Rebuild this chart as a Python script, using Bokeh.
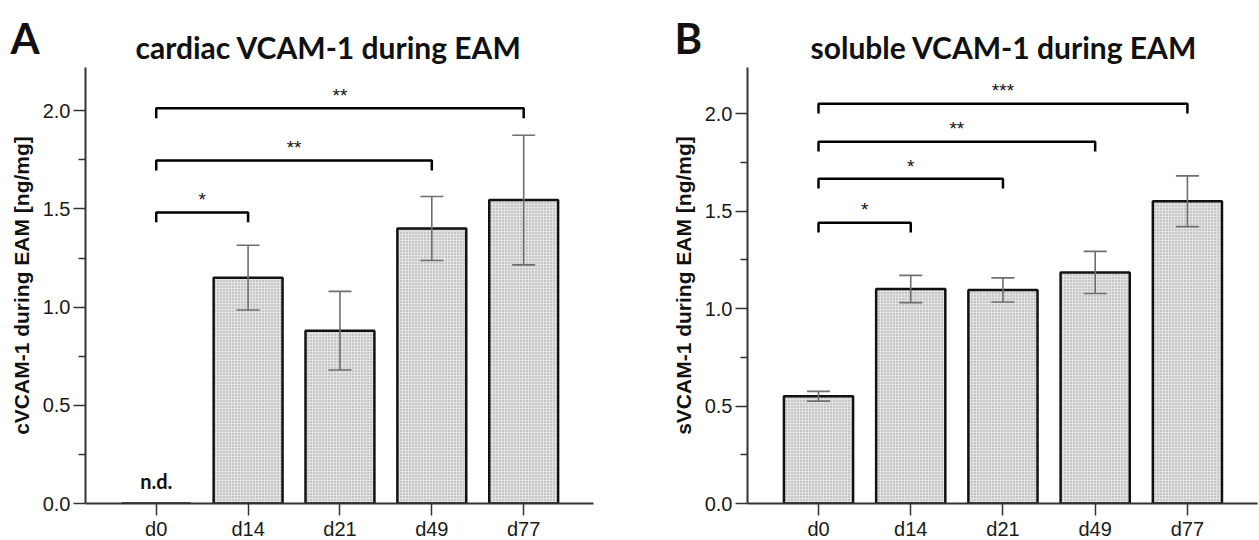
from bokeh.plotting import figure
from bokeh.layouts import row
from bokeh.models import FixedTicker, Label, ColumnDataSource, Range1d
from bokeh.embed import file_html
from bokeh.resources import INLINE
from bokeh.core.properties import value

days = ["d0", "d14", "d21", "d49", "d77"]

cardiac_mean = [0.0, 1.15, 0.88, 1.40, 1.545]
cardiac_sem = [0.0, 0.165, 0.20, 0.163, 0.33]
cardiac_br_to = [1, 3, 4]
cardiac_br_y = [1.482, 1.746, 2.012]
cardiac_br_stars = ["*", "**", "**"]

soluble_mean = [0.55, 1.10, 1.095, 1.185, 1.55]
soluble_sem = [0.025, 0.07, 0.062, 0.108, 0.13]
soluble_br_to = [1, 2, 3, 4]
soluble_br_y = [1.44, 1.665, 1.855, 2.05]
soluble_br_stars = ["*", "*", "**", "***"]

y_ticks = [0.0, 0.5, 1.0, 1.5, 2.0]
y_minor = [0.25, 0.75, 1.25, 1.75]


def panel(letter, letter_x, letter_side, title, ylabel, means, sems, br_to, br_y, br_stars,
          ymax, border_left, border_right, frame_w, title_offset, nd=False):
    p = figure(frame_width=frame_w, frame_height=436,
               min_border_left=border_left, min_border_right=border_right,
               min_border_top=67, min_border_bottom=37,
               x_range=Range1d(-0.77, 4.76), y_range=Range1d(0, ymax),
               output_backend="svg", toolbar_location=None, tools="")
    p.outline_line_color = None
    p.grid.visible = False
    p.background_fill_color = "white"
    p.border_fill_color = "white"

    x = list(range(len(days)))
    src = ColumnDataSource(dict(x=x, top=means))
    p.vbar(x="x", top="top", bottom=0, width=0.75, source=src,
           fill_color="#e2e2e2", line_color="#111111", line_width=2.5,
           hatch_pattern="dot", hatch_color="#9a9a9a", hatch_scale=3, hatch_weight=1)

    # error bars
    ex = [i for i in x if sems[i] > 0]
    lo = [means[i] - sems[i] for i in ex]
    hi = [means[i] + sems[i] for i in ex]
    ec = "#6e6e6e"
    p.segment(x0=ex, x1=ex, y0=lo, y1=hi, line_color=ec, line_width=1.6)
    p.segment(x0=[v - 0.125 for v in ex], x1=[v + 0.125 for v in ex], y0=hi, y1=hi,
              line_color=ec, line_width=1.6)
    p.segment(x0=[v - 0.125 for v in ex], x1=[v + 0.125 for v in ex], y0=lo, y1=lo,
              line_color=ec, line_width=1.6)

    # significance brackets
    drop = 0.05
    xs, ys = [], []
    for j, yv in zip(br_to, br_y):
        xs.append([0, 0, j, j])
        ys.append([yv - drop, yv, yv, yv - drop])
    p.multi_line(xs=xs, ys=ys, line_color="black", line_width=2.5)
    p.text(x=[j / 2 for j in br_to], y=[yv + 0.012 for yv in br_y], text=br_stars,
           text_align="center", text_baseline="bottom",
           text_font=value("Liberation Sans"), text_font_size="19px", text_color="#111111")

    if nd:
        p.text(x=[0], y=[0.117], text=["n.d."], text_align="center", text_baseline="middle",
               text_font=value("Lato"), text_font_style="bold", text_font_size="20px",
               text_color="#111111")

    # axes
    for ax in (p.xaxis[0], p.yaxis[0]):
        ax.axis_line_color = "#333333"
        ax.axis_line_width = 2
        ax.major_tick_line_color = "#333333"
        ax.major_tick_line_width = 1.5
        ax.minor_tick_line_color = "#333333"
        ax.minor_tick_line_width = 1.5
        ax.major_tick_in = 0
        ax.minor_tick_in = 0
        ax.major_label_text_font = "Liberation Sans"
        ax.major_label_text_font_size = "20px"
        ax.major_label_text_color = "#1a1a1a"

    p.xaxis.ticker = FixedTicker(ticks=x, minor_ticks=[])
    p.xaxis.major_label_overrides = {i: d for i, d in enumerate(days)}
    p.xaxis.major_tick_out = 12
    p.xaxis.major_label_standoff = 2

    p.yaxis.ticker = FixedTicker(ticks=y_ticks, minor_ticks=y_minor)
    p.yaxis.major_label_overrides = {t: f"{t:.1f}" for t in y_ticks}
    p.yaxis.major_tick_out = 12
    p.yaxis.minor_tick_out = 7
    p.yaxis.major_label_standoff = 3
    p.yaxis.axis_label = ylabel
    p.yaxis.axis_label_text_font = "Liberation Sans"
    p.yaxis.axis_label_text_font_style = "bold"
    p.yaxis.axis_label_text_font_size = "21px"
    p.yaxis.axis_label_text_color = "#111111"
    p.yaxis.axis_label_standoff = 7

    p.title.text = title
    p.title.text_font = "Lato"
    p.title.text_font_style = "bold"
    p.title.text_font_size = "30px"
    p.title.text_color = "#111111"
    p.title.align = "left"
    p.title.offset = title_offset
    p.title.standoff = 6

    # panel letter: placed in a side panel (so it is not clipped) at canvas coordinates
    p.add_layout(Label(x=letter_x, y=12, x_units="canvas", y_units="canvas", text=letter,
                       text_baseline="top", text_align="left",
                       text_font="Lato", text_font_style="bold", text_font_size="42px",
                       text_color="#111111"), letter_side)
    return p


pA = panel("A", 10, "right", "cardiac VCAM-1  during EAM", "cVCAM-1 during EAM [ng/mg]",
           cardiac_mean, cardiac_sem, cardiac_br_to, cardiac_br_y, cardiac_br_stars,
           2.22, 85, 47, 508, 50, nd=True)
pB = panel("B", 34, "left", "soluble VCAM-1  during EAM", "sVCAM-1 during EAM [ng/mg]",
           soluble_mean, soluble_sem, soluble_br_to, soluble_br_y, soluble_br_stars,
           2.236, 105, 4, 510, 63)

layout = row(pA, pB, spacing=0)
open("out.html", "w").write(file_html(layout, INLINE))
